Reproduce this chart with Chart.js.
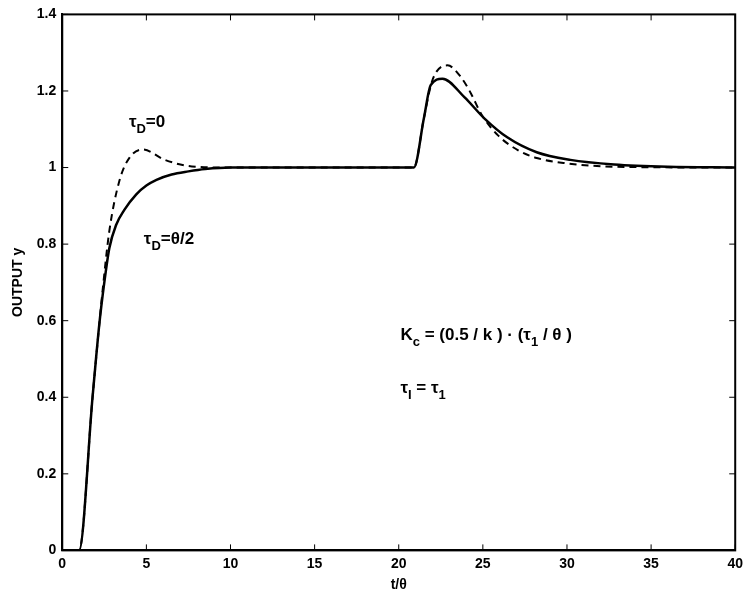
<!DOCTYPE html>
<html lang="en">
<head>
<meta charset="UTF-8">
<title>Output response</title>
<script src="https://cdn.jsdelivr.net/npm/chart.js"></script>
<style>
  body { margin: 0; background: #fff; }
  .wrap { width: 748px; height: 598px; }
</style>
</head>
<body>
<div class="wrap"><canvas id="c"></canvas></div>
<script>
// Solid curve: tau_D = theta/2
const tSolid = [0, 1, 1.8, 2.2, 2.5, 2.8, 3.2, 3.7, 4.4, 5, 5.6, 6.5, 7.5, 8.5, 10, 15, 20.9, 21.5, 21.9, 22.6, 23.9, 25.1, 26.45, 28.2, 30.2, 32.8, 36, 40];
const ySolid = [0, 0, 0.40, 0.59, 0.70, 0.79, 0.85, 0.89, 0.93, 0.953, 0.968, 0.982, 0.99, 0.996, 1.0, 1.0, 1.0, 1.13, 1.215, 1.232, 1.184, 1.128, 1.079, 1.04, 1.02, 1.008, 1.002, 1.0];
// Dashed curve: tau_D = 0
const tDash = [0, 1, 1.8, 2.2, 2.4, 2.8, 3.4, 4.0, 4.8, 6.1, 7.7, 10, 15, 20.9, 21.5, 22, 22.9, 23.7, 24.3, 24.9, 25.9, 27.1, 28.2, 29.8, 33, 40];
const yDash = [0, 0, 0.40, 0.59, 0.68, 0.835, 0.966, 1.026, 1.047, 1.02, 1.003, 1.0, 1.0, 1.0, 1.13, 1.228, 1.267, 1.236, 1.193, 1.14, 1.084, 1.045, 1.025, 1.012, 1.002, 1.0];
const xTicks = [0, 5, 10, 15, 20, 25, 30, 35, 40];
const yTicks = [0, 0.2, 0.4, 0.6, 0.8, 1, 1.2, 1.4];

const toPts = (xs, ys) => xs.map((x, i) => ({ x: x, y: ys[i] }));

// text with subscripts: array of [text, isSub]
const notes = [
  { x: 3.96, y: 1.107, parts: [['τ', 0], ['D', 1], ['=0', 0]] },
  { x: 4.85, y: 0.80, parts: [['τ', 0], ['D', 1], ['=θ/2', 0]] },
  { x: 20.1, y: 0.55, parts: [['K', 0], ['c', 1], [' = (0.5 / k ) · (τ', 0], ['1', 1], [' / θ )', 0]] },
  { x: 20.1, y: 0.41, parts: [['τ', 0], ['I', 1], [' = τ', 0], ['1', 1]] }
];

const notePlugin = {
  id: 'notes',
  afterDatasetsDraw(chart) {
    const ctx = chart.ctx;
    ctx.save();
    ctx.fillStyle = '#000';
    ctx.textBaseline = 'alphabetic';
    notes.forEach(n => {
      let px = chart.scales.x.getPixelForValue(n.x);
      const py = chart.scales.y.getPixelForValue(n.y);
      n.parts.forEach(([s, sub]) => {
        ctx.font = sub ? 'bold 13px "Liberation Sans", Arial' : 'bold 17px "Liberation Sans", Arial';
        ctx.fillText(s, px, sub ? py + 6 : py);
        px += ctx.measureText(s).width;
      });
    });
    ctx.restore();
  }
};

const font = { family: '"Liberation Sans", Arial', weight: 'bold', size: 14 };

new Chart(document.getElementById('c'), {
  type: 'scatter',
  data: {
    datasets: [
      { data: toPts(tSolid, ySolid), showLine: true, borderColor: '#000', borderWidth: 2.5, pointRadius: 0, cubicInterpolationMode: 'monotone' },
      { data: toPts(tDash, yDash), showLine: true, borderColor: '#000', borderWidth: 2, borderDash: [7, 5], pointRadius: 0, cubicInterpolationMode: 'monotone' }
    ]
  },
  options: {
    responsive: true,
    maintainAspectRatio: false,
    animation: false,
    layout: { padding: { top: 2, right: 2, left: 6, bottom: 4 } },
    plugins: { legend: { display: false }, tooltip: { enabled: false } },
    scales: {
      x: {
        type: 'linear', min: 0, max: 40,
        afterBuildTicks: a => { a.ticks = xTicks.map(v => ({ value: v })); },
        grid: { display: false, drawTicks: false },
        border: { color: '#000', width: 2 },
        ticks: { color: '#000', font: font, padding: 5 },
        title: { display: true, text: 't/θ', color: '#000', font: font, padding: { top: 0, bottom: 0 } }
      },
      y: {
        min: 0, max: 1.4,
        afterBuildTicks: a => { a.ticks = yTicks.map(v => ({ value: v })); },
        grid: { display: false, drawTicks: false },
        border: { color: '#000', width: 2 },
        ticks: { color: '#000', font: font, padding: 6, callback: v => String(v) },
        title: { display: true, text: 'OUTPUT y', color: '#000', font: font, padding: 4 }
      }
    }
  },
  plugins: [notePlugin, {
    id: 'frame',
    afterDraw(chart) {
      const { ctx, chartArea: a } = chart;
      ctx.save();
      ctx.strokeStyle = '#000';
      ctx.lineWidth = 2;
      ctx.strokeRect(a.left, a.top, a.right - a.left, a.bottom - a.top);
      ctx.beginPath();
      xTicks.forEach(v => {
        const p = chart.scales.x.getPixelForValue(v);
        ctx.moveTo(p, a.bottom); ctx.lineTo(p, a.bottom - 6);
        ctx.moveTo(p, a.top); ctx.lineTo(p, a.top + 6);
      });
      yTicks.forEach(v => {
        const p = chart.scales.y.getPixelForValue(v);
        ctx.moveTo(a.left, p); ctx.lineTo(a.left + 6, p);
        ctx.moveTo(a.right, p); ctx.lineTo(a.right - 6, p);
      });
      ctx.lineWidth = 1;
      ctx.stroke();
      ctx.restore();
    }
  }]
});
</script>
</body>
</html>
